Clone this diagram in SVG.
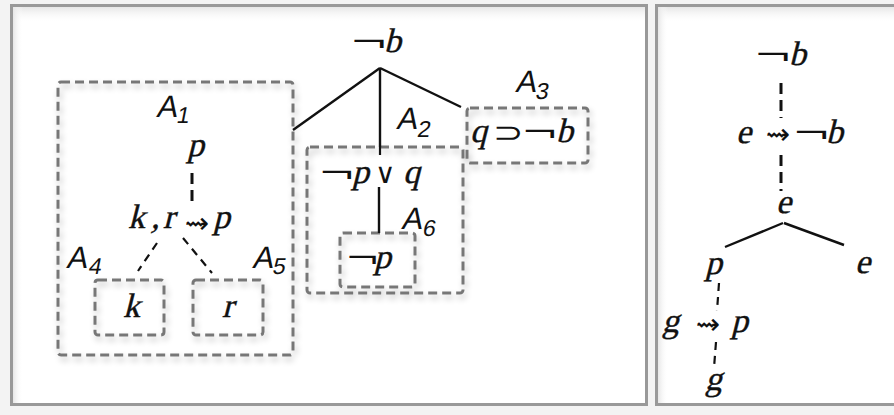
<svg xmlns="http://www.w3.org/2000/svg" width="894" height="415" viewBox="0 0 894 415">
<defs>
<style>
.m{font-family:'Liberation Serif','Times New Roman',serif;font-size:34px;font-style:normal;fill:#111;stroke:#111;stroke-width:0.4}
.ng{font-family:'DejaVu Serif','DejaVu Sans',serif;font-size:30px;fill:#111}
.op{font-family:'DejaVu Sans',sans-serif;font-size:28px;font-weight:200;fill:#111}
.ar{font-family:'DejaVu Sans',sans-serif;font-size:29px;fill:#111;text-anchor:middle;dominant-baseline:central}
.lab{font-family:'Liberation Sans',Arial,sans-serif;font-size:31px;font-style:normal;fill:#111}
.sub{font-size:23px}
.box{fill:none;stroke:#777;stroke-width:3;stroke-dasharray:9 5}
.solid{stroke:#111;stroke-width:2.4;fill:none}
.dash{stroke:#111;stroke-width:3;stroke-dasharray:11 6;fill:none}
.dash2{stroke:#111;stroke-width:2.2;stroke-dasharray:8 6;fill:none}
.frame{fill:#fff;stroke:#999;stroke-width:3}
</style>
<linearGradient id="gt" x1="0" y1="0" x2="0" y2="1"><stop offset="0" stop-color="#e6e6e6"/><stop offset="1" stop-color="#fff" stop-opacity="0"/></linearGradient>
<linearGradient id="gl" x1="0" y1="0" x2="1" y2="0"><stop offset="0" stop-color="#e6e6e6"/><stop offset="1" stop-color="#fff" stop-opacity="0"/></linearGradient>
<filter id="sh" x="-10%" y="-10%" width="130%" height="130%"><feGaussianBlur in="SourceAlpha" stdDeviation="3"/><feOffset dx="2" dy="4"/><feComponentTransfer><feFuncA type="linear" slope="0.25"/></feComponentTransfer><feMerge><feMergeNode/><feMergeNode in="SourceGraphic"/></feMerge></filter>
</defs>
<rect width="894" height="415" fill="#f3f3f3"/>
<g id="panel-left">
<rect class="frame" x="11.5" y="5.5" width="635" height="399"/>
<rect x="13" y="7" width="632" height="16" fill="url(#gt)"/>
<rect x="13" y="7" width="10" height="396" fill="url(#gl)"/>
</g>
<g id="panel-right">
<rect class="frame" x="656.5" y="5.5" width="260" height="399"/>
<rect x="658" y="7" width="236" height="16" fill="url(#gt)"/>
<rect x="658" y="7" width="10" height="396" fill="url(#gl)"/>
</g>
<g id="boxes" filter="url(#sh)">
<rect id="A1-box" class="box" x="58" y="82" width="235" height="273" rx="3"/>
<rect id="A2-box" class="box" x="307" y="147" width="156" height="146" rx="3"/>
<rect id="A3-box" class="box" x="467" y="108" width="121" height="55" rx="3"/>
<rect id="A4-box" class="box" x="95" y="280" width="69" height="55" rx="3"/>
<rect id="A5-box" class="box" x="193" y="280" width="70" height="55" rx="3"/>
<rect id="A6-box" class="box" x="340" y="233" width="75" height="54" rx="3"/>
</g>
<g id="connectors">
<line class="solid" x1="380" y1="68" x2="293" y2="130"/>
<line class="solid" x1="380" y1="68" x2="380" y2="147"/>
<line class="dash2" x1="380" y1="147" x2="380" y2="157" stroke-dasharray="3 3"/>
<line class="solid" x1="380" y1="68" x2="461" y2="107"/>
<line class="solid" x1="379" y1="187" x2="379" y2="233"/>
<line class="dash" x1="192" y1="173" x2="192" y2="206"/>
<line class="dash2" x1="157" y1="243" x2="138" y2="271"/>
<line class="dash2" x1="183" y1="238" x2="212" y2="273"/>
<line class="dash" x1="781" y1="83" x2="781" y2="118"/>
<line class="dash" x1="781" y1="155" x2="781" y2="191"/>
<line class="solid" x1="783" y1="223" x2="725" y2="247"/>
<line class="solid" x1="784" y1="223" x2="844" y2="245"/>
<line class="dash2" x1="719" y1="283" x2="717" y2="311"/>
<line class="dash2" x1="716" y1="342" x2="714" y2="368"/>
</g>
<g id="root-negb"><text class="ng" transform="translate(349.5,52) scale(1.55,1)">¬</text><text class="m" transform="translate(384,52) skewX(-14)">b</text></g>
<g id="A1"><text class="lab" transform="translate(156,117) skewX(-11)">A<tspan class="sub" x="21" y="6">1</tspan></text>
<text class="m" transform="translate(187,156) skewX(-14)">p</text></g>
<g id="rule-krp"><text class="m" transform="translate(128,228) skewX(-14)">k</text><text class="m" transform="translate(151,228) skewX(-14)">,</text><text class="m" transform="translate(163,228) skewX(-14)">r</text><text class="ar" x="197" y="223">⇝</text><text class="m" transform="translate(213,228) skewX(-14)">p</text></g>
<g id="A4"><text class="lab" transform="translate(66,268) skewX(-11)">A<tspan class="sub" x="23" y="6">4</tspan></text><text class="m" transform="translate(123,317) skewX(-14)">k</text></g>
<g id="A5"><text class="lab" transform="translate(252,268) skewX(-11)">A<tspan class="sub" x="21" y="6">5</tspan></text><text class="m" transform="translate(222,317) skewX(-14)">r</text></g>
<g id="A2"><text class="lab" transform="translate(396,129) skewX(-11)">A<tspan class="sub" x="22" y="8">2</tspan></text>
<text class="ng" transform="translate(318,183) scale(1.5,1)">¬</text><text class="m" transform="translate(352,183) skewX(-14)">p</text><text class="op" x="375" y="183">∨</text><text class="m" transform="translate(403,183) skewX(-14)">q</text></g>
<g id="A6"><text class="lab" transform="translate(401,229) skewX(-11)">A<tspan class="sub" x="22" y="7">6</tspan></text>
<text class="ng" transform="translate(345,268) scale(1.4,1)">¬</text><text class="m" transform="translate(374,268) skewX(-14)">p</text></g>
<g id="A3"><text class="lab" transform="translate(515,92) skewX(-11)">A<tspan class="sub" x="21" y="7">3</tspan></text>
<text class="m" transform="translate(470,142) skewX(-14)">q</text><text class="op" transform="translate(493,142) scale(1.3,1)">⊃</text><text class="ng" transform="translate(521,142) scale(1.5,1)">¬</text><text class="m" transform="translate(556,142) skewX(-14)">b</text></g>
<g id="r-negb"><text class="ng" transform="translate(753.5,65) scale(1.55,1)">¬</text><text class="m" transform="translate(789,65) skewX(-14)">b</text></g>
<g id="r-rule-e"><text class="m" transform="translate(736,143) skewX(-14)">e</text><text class="ar" x="778" y="134">⇝</text><text class="ng" transform="translate(792,143) scale(1.55,1)">¬</text><text class="m" transform="translate(826,143) skewX(-14)">b</text></g>
<g id="r-e"><text class="m" transform="translate(776,213) skewX(-14)">e</text></g>
<g id="r-p"><text class="m" transform="translate(705,274) skewX(-14)">p</text></g>
<g id="r-e2"><text class="m" transform="translate(855,273) skewX(-14)">e</text></g>
<g id="r-rule-g"><text class="m" transform="translate(662,332) skewX(-14)">g</text><text class="ar" x="708" y="324">⇝</text><text class="m" transform="translate(731,332) skewX(-14)">p</text></g>
<g id="r-g"><text class="m" transform="translate(705,390) skewX(-14)">g</text></g>
</svg>
